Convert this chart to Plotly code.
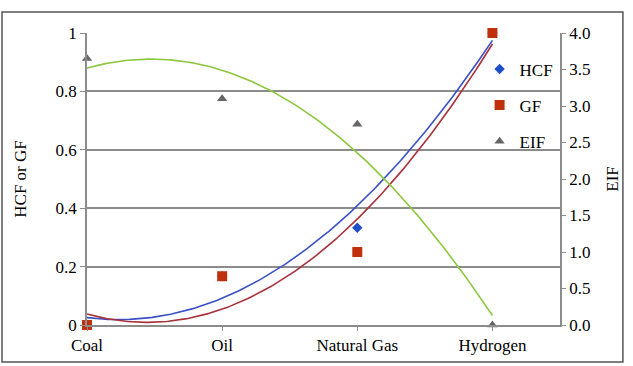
import numpy as np
import plotly.graph_objects as go

categories = ["Coal", "Oil", "Natural Gas", "Hydrogen"]
hcf = [0.0, 0.167, 0.333, 1.0]
gf = [0.0, 0.167, 0.25, 1.0]
eif = [3.65, 3.1, 2.75, 0.0]
left_ticks = [0, 0.2, 0.4, 0.6, 0.8, 1.0]
left_ticklabels = ["0", "0.2", "0.4", "0.6", "0.8", "1"]
right_ticks = [0, 0.5, 1.0, 1.5, 2.0, 2.5, 3.0, 3.5, 4.0]

x = np.arange(len(categories))
xs = np.linspace(0, len(categories) - 1, 200)

def trend(y):
    return np.polyval(np.polyfit(x, y, 2), xs)

FONT = '"Liberation Serif", "DejaVu Serif", serif'
AX = "#8c8c8c"

fig = go.Figure()
fig.add_trace(go.Scatter(x=x, y=hcf, mode="markers", name="HCF", legendgroup="a",
                         marker=dict(symbol="diamond", size=8, color="#1f4fc8"), cliponaxis=False))
fig.add_trace(go.Scatter(x=x, y=gf, mode="markers", name="GF", legendgroup="b",
                         marker=dict(symbol="square", size=10, color="#c0300c"), cliponaxis=False))
fig.add_trace(go.Scatter(x=x, y=eif, mode="markers", name="EIF", legendgroup="c", yaxis="y2",
                         marker=dict(symbol="triangle-up", size=9, color="#666666"), cliponaxis=False))
fig.add_trace(go.Scatter(x=xs, y=trend(hcf), mode="lines", showlegend=False,
                         line=dict(color="#3a50c8", width=1.6)))
fig.add_trace(go.Scatter(x=xs, y=trend(gf), mode="lines", showlegend=False,
                         line=dict(color="#a8303a", width=1.6)))
fig.add_trace(go.Scatter(x=xs, y=trend(eif), mode="lines", showlegend=False, yaxis="y2",
                         line=dict(color="#8dc63f", width=1.6)))

fig.update_layout(
    width=633, height=366,
    margin=dict(l=87, r=73, t=33, b=41),
    paper_bgcolor="white", plot_bgcolor="white",
    font=dict(family=FONT, size=17, color="black"),
    xaxis=dict(range=[0, 3.5], tickvals=list(x), ticktext=categories, showgrid=False,
               showline=True, linecolor=AX, linewidth=1.5, ticks="outside", ticklen=4,
               tickcolor=AX, zeroline=False),
    yaxis=dict(range=[0, 1], tickvals=left_ticks, ticktext=left_ticklabels, showgrid=True,
               gridcolor=AX, gridwidth=1.5, showline=True, linecolor=AX, linewidth=1.5,
               ticks="outside", ticklen=5, tickcolor=AX, zeroline=False,
               title=dict(text="HCF or GF", font=dict(size=17), standoff=25)),
    yaxis2=dict(range=[0, 4], tickvals=right_ticks, tickformat=".1f", overlaying="y",
                side="right", showgrid=False, showline=True, linecolor=AX, linewidth=1.5,
                ticks="outside", ticklen=4, tickcolor=AX, zeroline=False,
                title=dict(text="EIF", font=dict(size=17), standoff=17)),
    legend=dict(x=0.83, y=0.937, xanchor="left", yanchor="top", bgcolor="rgba(0,0,0,0)",
                tracegroupgap=11, font=dict(size=17)),
    shapes=[dict(type="rect", xref="paper", yref="paper", x0=-0.1797, x1=1.133,
                 y0=-0.1267, y1=1.0719, line=dict(color="#555555", width=1.5))],
)

fig.write_html("out.html")
